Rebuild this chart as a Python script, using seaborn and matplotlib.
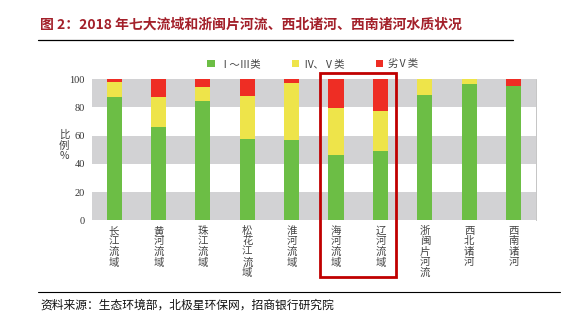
import matplotlib
matplotlib.use("Agg")
import matplotlib.pyplot as plt
import seaborn as sns
import pandas as pd
import numpy as np
from matplotlib.patches import Rectangle, Patch
from matplotlib.lines import Line2D

categories = ["长江流域", "黄河流域", "珠江流域", "松花江流域", "淮河流域",
              "海河流域", "辽河流域", "浙闽片河流", "西北诸河", "西南诸河"]
class_1_3 = [87.5, 66.4, 84.7, 57.8, 57.0, 46.3, 49.1, 88.7, 96.7, 95.1]
class_4_5 = [10.6, 21.1, 9.9, 30.2, 40.2, 33.4, 28.5, 11.3, 3.3, 0.0]
class_worse5 = [1.9, 12.5, 5.4, 12.0, 2.8, 20.3, 22.4, 0.0, 0.0, 4.9]
series_names = ["Ⅰ～Ⅲ类", "Ⅳ、Ⅴ类", "劣Ⅴ类"]
yticks = [0, 20, 40, 60, 80, 100]

sns.set_style("white")
plt.rcParams['font.family'] = ['Noto Sans CJK SC', 'DejaVu Sans']

GREEN = "#6CBE45"
YELLOW = "#EEE44A"
RED = "#EE2D24"
BAND = "#D2D2D4"

df = pd.DataFrame({
    "cat": categories,
    "g": class_1_3,
    "y": class_4_5,
    "r": class_worse5,
})
df["cum_g"] = df["g"]
df["cum_y"] = df["g"] + df["y"]
df["cum_r"] = df["g"] + df["y"] + df["r"]

fig = plt.figure(figsize=(5.67, 3.27), dpi=100)
ax = fig.add_axes([0.162, 0.326, 0.783, 0.432])

# background bands
for lo, hi in [(0, 20), (40, 60), (80, 100)]:
    ax.axhspan(lo, hi, color=BAND, zorder=0, lw=0)

for col, color in [("cum_r", RED), ("cum_y", YELLOW), ("cum_g", GREEN)]:
    sns.barplot(data=df, x="cat", y=col, color=color, width=0.34,
                saturation=1, ax=ax, zorder=2, linewidth=0)

ax.set_ylim(0, 100)
ax.set_xlim(-0.5, len(categories) - 0.5)
ax.set_yticks(yticks)
ax.set_yticklabels([str(v) for v in yticks], fontsize=7.5, color="#333333",
                   family=['Liberation Serif'])
ax.set_xticks(range(len(categories)))
ax.set_xticklabels(["\n".join(list(c)) for c in categories], fontsize=7.5,
                   color="#444444", linespacing=1.05, va="top")
ax.tick_params(axis="both", length=0, pad=4)
ax.tick_params(axis="y", pad=5)
ax.set_xlabel("")
ax.set_ylabel("")
for s in ["top", "left", "bottom"]:
    ax.spines[s].set_visible(False)
ax.spines["right"].set_color("#BBBBBB")
ax.spines["right"].set_linewidth(0.6)

# y label stacked
fig.text(64 / 567, 0.555, "比\n例\n%", fontsize=7.5, color="#444444",
         ha="center", va="center", linespacing=1.1)

# legend
handles = [Patch(facecolor=GREEN, edgecolor="none"),
           Patch(facecolor=YELLOW, edgecolor="none"),
           Patch(facecolor=RED, edgecolor="none")]
fig.legend(handles, series_names, loc="center", bbox_to_anchor=(0.552, 0.804),
           ncol=3, frameon=False, fontsize=7.5, handlelength=0.7,
           handleheight=0.7, handletextpad=0.4, columnspacing=3.0,
           labelcolor="#444444")

# red highlight rectangle
rect = Rectangle((320 / 567, 1 - 277 / 327), (396 - 320) / 567, (277 - 72.5) / 327,
                 transform=fig.transFigure, fill=False, edgecolor="#C00000",
                 linewidth=2.0, zorder=5)
fig.patches.append(rect)

# title
fig.text(40 / 567, 1 - 25 / 327,
         "图 2：2018 年七大流域和浙闽片河流、西北诸河、西南诸河水质状况",
         fontsize=10, fontweight="bold", color="#A3202A", ha="left", va="center")
fig.add_artist(Line2D([38 / 567, 513 / 567], [1 - 39.5 / 327, 1 - 39.5 / 327],
                      color="black", linewidth=0.9, transform=fig.transFigure))

# source
fig.add_artist(Line2D([38 / 567, 560 / 567], [1 - 292 / 327, 1 - 292 / 327],
                      color="black", linewidth=0.8, transform=fig.transFigure))
fig.text(40 / 567, 1 - 305 / 327, "资料来源：生态环境部，北极星环保网，招商银行研究院",
         fontsize=8.5, color="#111111", ha="left", va="center")

fig.savefig("out.png", dpi=100)
